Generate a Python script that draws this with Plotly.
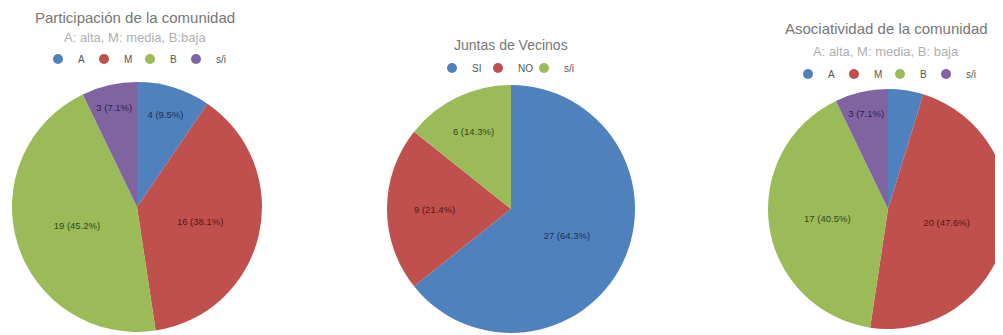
import plotly.graph_objects as go

# Chart 1: Participación de la comunidad
part_labels = ["A", "M", "B", "s/i"]
part_values = [4, 16, 19, 3]

# Chart 2: Juntas de Vecinos
juntas_labels = ["SI", "NO", "s/i"]
juntas_values = [27, 9, 6]

# Chart 3: Asociatividad de la comunidad
asoc_labels = ["A", "M", "B", "s/i"]
asoc_values = [2, 20, 17, 3]

BLUE, RED, GREEN, PURPLE = "#4F81BD", "#C0504D", "#9BBB59", "#8064A2"
TBLUE, TRED, TGREEN, TPURPLE = "#1b2f55", "#5a1414", "#34461a", "#2b1f45"

part_colors = [BLUE, RED, GREEN, PURPLE]
part_tcolors = [TBLUE, TRED, TGREEN, TPURPLE]
juntas_colors = [BLUE, RED, GREEN]
juntas_tcolors = [TBLUE, TRED, TGREEN]
asoc_colors = [BLUE, RED, GREEN, PURPLE]
asoc_tcolors = [TBLUE, TRED, TGREEN, TPURPLE]

W, H = 1003, 335

def px_dom(cx, cy, r):
    return dict(x=[max(0, (cx - r) / W), min(1, (cx + r) / W)],
                y=[max(0, (H - cy - r) / H), min(1, (H - cy + r) / H)])

tmpl = "%{value} (%{percent:.1%})"

fig = go.Figure()

def add_pie(labels, values, colors, tcolors, dom, legend, hide_small=None):
    tt = [tmpl] * len(labels)
    if hide_small is not None:
        tt[hide_small] = ""
    fig.add_trace(go.Pie(
        labels=labels, values=values, sort=False, direction="clockwise",
        rotation=0, domain=dom, showlegend=False,
        marker=dict(colors=colors, line=dict(width=0)),
        texttemplate=tt, textposition="inside", insidetextorientation="horizontal",
        textfont=dict(size=9.5, color=tcolors, family="Arial"),
        hoverinfo="label+value+percent",
    ))
    # legend entries with circle markers
    for l, c in zip(labels, colors):
        fig.add_trace(go.Scatter(
            x=[None], y=[None], mode="markers", name=l, legend=legend,
            marker=dict(symbol="circle", size=10, color=c),
            xaxis="x", yaxis="y", showlegend=True,
        ))
    # invisible spacer entry so the last label is not clipped
    fig.add_trace(go.Scatter(
        x=[None], y=[None], mode="markers", name=" ", legend=legend,
        marker=dict(symbol="circle", size=1, color="rgba(0,0,0,0)"),
        xaxis="x", yaxis="y", showlegend=True, hoverinfo="skip",
    ))

add_pie(part_labels, part_values, part_colors, part_tcolors,
        px_dom(129, 199, 125), "legend")
add_pie(juntas_labels, juntas_values, juntas_colors, juntas_tcolors,
        px_dom(503, 201, 124), "legend2")
add_pie(asoc_labels, asoc_values, asoc_colors, asoc_tcolors,
        px_dom(880, 201, 120), "legend3", hide_small=0)

leg_common = dict(orientation="h", xanchor="left", yanchor="middle",
                  font=dict(size=10, color="#555555", family="Arial"),
                  bgcolor="rgba(0,0,0,0)", itemwidth=30,
                  entrywidth=1, entrywidthmode="pixels",
                  itemclick=False, itemdoubleclick=False)

annotations = [
    dict(text="Participación de la comunidad", x=127 / W, y=1.0, yanchor="top",
         font=dict(size=15, color="#777777", family="Arial")),
    dict(text="A: alta, M: media, B:baja", x=127 / W, y=1 - 29 / H,
         font=dict(size=13, color="#B0B0B0", family="Arial")),
    dict(text="Juntas de Vecinos", x=503 / W, y=1 - 37 / H,
         font=dict(size=14, color="#777777", family="Arial")),
    dict(text="Asociatividad de la comunidad", x=878 / W, y=1 - 21 / H,
         font=dict(size=15, color="#777777", family="Arial")),
    dict(text="A: alta, M: media, B: baja", x=878 / W, y=1 - 43 / H,
         font=dict(size=13, color="#B0B0B0", family="Arial")),
]
for a in annotations:
    a.setdefault("yanchor", "middle")
    a.update(xref="paper", yref="paper", showarrow=False,
             xanchor="center", borderpad=0)

fig.update_layout(
    width=W, height=H,
    margin=dict(l=0, r=0, t=0, b=0, autoexpand=False),
    paper_bgcolor="white", plot_bgcolor="white",
    xaxis=dict(visible=False), yaxis=dict(visible=False),
    annotations=annotations,
    legend=dict(x=30 / W, y=1 - 51 / H, **leg_common),
    legend2=dict(x=424 / W, y=1 - 60 / H, **leg_common),
    legend3=dict(x=780 / W, y=1 - 66 / H, **leg_common),
    font=dict(family="Arial"),
)

fig.write_html("out.html")
